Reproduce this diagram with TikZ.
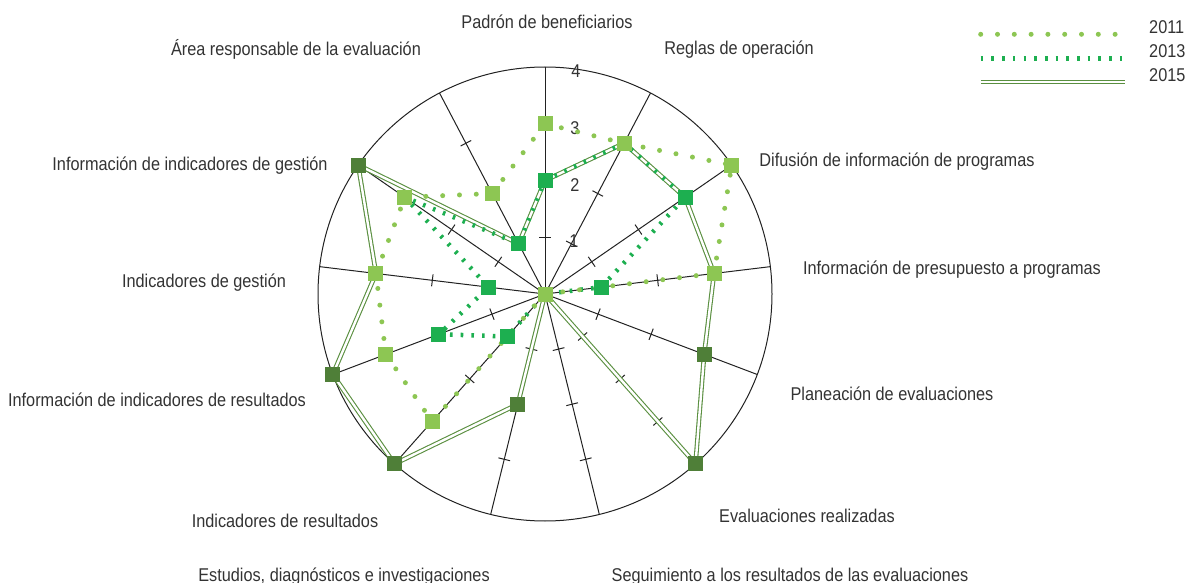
\documentclass[tikz,border=0pt]{standalone}
\usepackage{fontspec}
\setmainfont{Liberation Sans}[FakeStretch=0.88]
\usetikzlibrary{calc}
\definecolor{ink}{HTML}{222222}
\definecolor{txt}{HTML}{333333}
\definecolor{c11}{HTML}{8DC653}
\definecolor{c13}{HTML}{1DAF50}
\definecolor{c15}{HTML}{4F7F38}
\definecolor{c15l}{HTML}{5A8F40}
\tikzset{
  axisline/.style={draw=ink, line width=1pt},
  lbl/.style={font=\fontsize{18.5}{22}\selectfont, text=txt, inner sep=0pt, anchor=base},
  l11/.style={draw=c11, line width=5pt, line cap=round, dash pattern=on 0pt off 16.8pt},
  l13/.style={draw=c13, line width=4.5pt, dash pattern=on 2.6pt off 8.1pt},
  l15/.style={draw=c15l, line width=1.1pt, double=white, double distance=2.4pt},
  mk/.style={rectangle, minimum size=15pt, inner sep=0pt, draw=none},
  m11/.style={mk, fill=c11},
  m13/.style={mk, fill=c13},
  m15/.style={mk, fill=c15},
}
\begin{document}
\begin{tikzpicture}[x=1pt, y=-1pt]
\useasboundingbox (0,0) rectangle (1187,583);
\def\cx{545}\def\cy{294}\def\U{56.75}
\coordinate (O) at (\cx,\cy);
% grid
\draw[axisline] (O) circle[radius=227pt];
\foreach \k in {0,...,12}{
  \pgfmathsetmacro\a{\k*360/13}
  \coordinate (ax\k) at ({\cx+227*sin(\a)},{\cy-227*cos(\a)});
  \draw[axisline] (O) -- (ax\k);
  \foreach \v in {1,2,3}{
    \coordinate (t\k-\v a) at ({\cx+\v*\U*sin(\a)-6*cos(\a)},{\cy-\v*\U*cos(\a)-6*sin(\a)});
    \coordinate (t\k-\v b) at ({\cx+\v*\U*sin(\a)+6*cos(\a)},{\cy-\v*\U*cos(\a)+6*sin(\a)});
    \draw[axisline] (t\k-\v a) -- (t\k-\v b);
  }
}
% scale labels
\node[lbl, anchor=center] (s4) at (576,71) {4};
\node[lbl, anchor=center] (s3) at (575,128) {3};
\node[lbl, anchor=center] (s2) at (575,185) {2};
\node[lbl, anchor=center] (s1) at (574,241) {1};
% data points
\foreach \v [count=\i from 0] in {3,3,4,3,0,0,0,0,3,3,3,3,2}{
  \pgfmathsetmacro\a{\i*360/13}
  \coordinate (A\i) at ({\cx+\v*\U*sin(\a)},{\cy-\v*\U*cos(\a)});
}
\foreach \v [count=\i from 0] in {2,3,3,1,0,0,0,0,1,2,1,3,1}{
  \pgfmathsetmacro\a{\i*360/13}
  \coordinate (B\i) at ({\cx+\v*\U*sin(\a)},{\cy-\v*\U*cos(\a)});
}
\foreach \v [count=\i from 0] in {2,3,3,3,3,4,0,2,4,4,3,4,1}{
  \pgfmathsetmacro\a{\i*360/13}
  \coordinate (C\i) at ({\cx+\v*\U*sin(\a)},{\cy-\v*\U*cos(\a)});
}
% series lines
\draw[l15] (C0) -- (C1) -- (C2) -- (C3) -- (C4) -- (C5) -- (C6) -- (C7) -- (C8) -- (C9) -- (C10) -- (C11) -- (C12) -- cycle;
\draw[l13] (B0) -- (B1) -- (B2) -- (B3) -- (B4) -- (B5) -- (B6) -- (B7) -- (B8) -- (B9) -- (B10) -- (B11) -- (B12) -- cycle;
\draw[l11] (A0) -- (A1) -- (A2) -- (A3) -- (A4) -- (A5) -- (A6) -- (A7) -- (A8) -- (A9) -- (A10) -- (A11) -- (A12) -- cycle;
% markers
\foreach \i in {0,...,12}{ \node[m15] (mC\i) at (C\i) {}; }
\foreach \i in {0,...,12}{ \node[m13] (mB\i) at (B\i) {}; }
\foreach \i in {0,...,12}{ \node[m11] (mA\i) at (A\i) {}; }
% axis labels
\node[lbl] (lab0) at (547,29) {Padrón de beneficiarios};
\node[lbl] (lab1) at (739,55) {Reglas de operación};
\node[lbl] (lab2) at (897,167) {Difusión de información de programas};
\node[lbl] (lab3) at (952,274) {Información de presupuesto a programas};
\node[lbl] (lab4) at (892,400) {Planeación de evaluaciones};
\node[lbl] (lab5) at (807,522) {Evaluaciones realizadas};
\node[lbl] (lab6) at (790,581) {Seguimiento a los resultados de las evaluaciones};
\node[lbl] (lab7) at (344,581) {Estudios, diagnósticos e investigaciones};
\node[lbl] (lab8) at (285,527) {Indicadores de resultados};
\node[lbl] (lab9) at (157,406) {Información de indicadores de resultados};
\node[lbl] (lab10) at (204,287) {Indicadores de gestión};
\node[lbl] (lab11) at (190,171) {Información de indicadores de gestión};
\node[lbl] (lab12) at (296,56) {Área responsable de la evaluación};
% legend
\coordinate (g11a) at (980.7,34.3); \coordinate (g11b) at (1115.2,34.3);
\coordinate (g13a) at (980.7,58.5); \coordinate (g13b) at (1122,58.5);
\coordinate (g15a) at (980.5,82.2); \coordinate (g15b) at (1124.5,82.2);
\draw[l11] (g11a) -- (g11b);
\draw[l13] (g13a) -- (g13b);
\draw[l15] (g15a) -- (g15b);
\node[lbl, anchor=base west] (y11) at (1149,34) {2011};
\node[lbl, anchor=base west] (y13) at (1149,58) {2013};
\node[lbl, anchor=base west] (y15) at (1149,82) {2015};
\end{tikzpicture}
\end{document}
